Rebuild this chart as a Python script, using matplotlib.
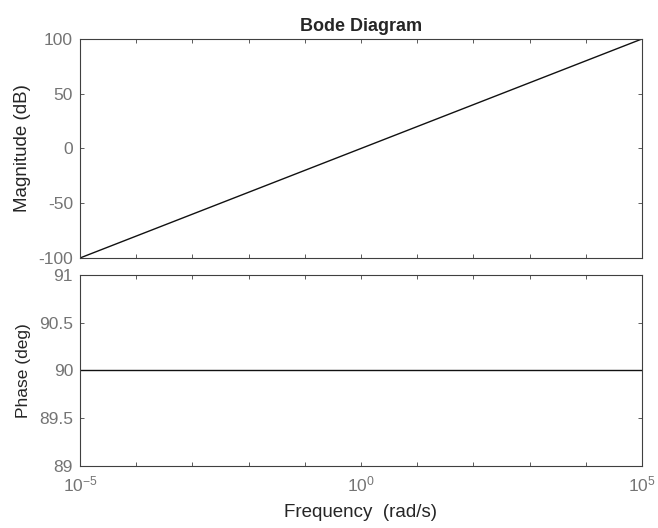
import matplotlib
matplotlib.use('Agg')
import matplotlib.pyplot as plt
from matplotlib.ticker import NullLocator

plt.rcParams['font.family'] = ['Liberation Sans', 'DejaVu Sans']
plt.rcParams['mathtext.fontset'] = 'custom'
plt.rcParams['mathtext.rm'] = 'Liberation Sans'

# Bode data of G(s) = s
freq = [1e-5, 1e5]
mag_db = [-100, 100]
phase_deg = [90, 90]

mag_ticks = [-100, -50, 0, 50, 100]
phase_ticks = [89, 89.5, 90, 90.5, 91]
phase_labels = ['89', '89.5', '90', '90.5', '91']
freq_ticks = [10.0 ** k for k in range(-5, 6)]
freq_labels = [r'$\mathregular{10^{-5}}$', '', '', '', '', r'$\mathregular{10^{0}}$',
               '', '', '', '', r'$\mathregular{10^{5}}$']

axis_col = '#404040'
tick_col = '#747474'
label_col = '#262626'

fig = plt.figure(figsize=(6.58, 5.28), dpi=100)
ax1 = fig.add_axes([0.1216, 0.5114, 0.854, 0.4148])
ax2 = fig.add_axes([0.1216, 0.1174, 0.854, 0.3618])

ax1.plot(freq, mag_db, color='#111111', lw=1.0)
ax2.plot(freq, phase_deg, color='#111111', lw=1.0)

for ax in (ax1, ax2):
    ax.set_xscale('log')
    ax.set_xlim(1e-5, 1e5)
    ax.set_xticks(freq_ticks)
    ax.xaxis.set_minor_locator(NullLocator())
    ax.tick_params(direction='in', length=3, width=0.6, colors=axis_col,
                   labelcolor=tick_col, labelsize=12.5, top=True, right=True)
    ax.tick_params(axis='y', pad=5)
    ax.tick_params(axis='x', pad=6)
    for s in ax.spines.values():
        s.set_color(axis_col)
        s.set_linewidth(0.8)

ax1.set_xticklabels([])
ax1.set_ylim(-100, 100)
ax1.set_yticks(mag_ticks)
ax1.set_yticklabels([str(v) for v in mag_ticks])
ax1.set_ylabel('Magnitude (dB)', fontsize=13.5, color=label_col)
ax1.yaxis.set_label_coords(-0.087, 0.5)
ax1.set_title('Bode Diagram', fontsize=13, fontweight='bold', color=label_col, pad=6)

ax2.set_ylim(89, 91)
ax2.set_yticks(phase_ticks)
ax2.set_yticklabels(phase_labels)
ax2.set_xticklabels(freq_labels)
ax2.set_ylabel('Phase (deg)', fontsize=12.5, color=label_col)
ax2.yaxis.set_label_coords(-0.087, 0.5)
ax2.set_xlabel('Frequency  (rad/s)', fontsize=13.5, color=label_col)
ax2.xaxis.set_label_coords(0.5, -0.2)

fig.savefig('out.png', dpi=100, facecolor='white')
